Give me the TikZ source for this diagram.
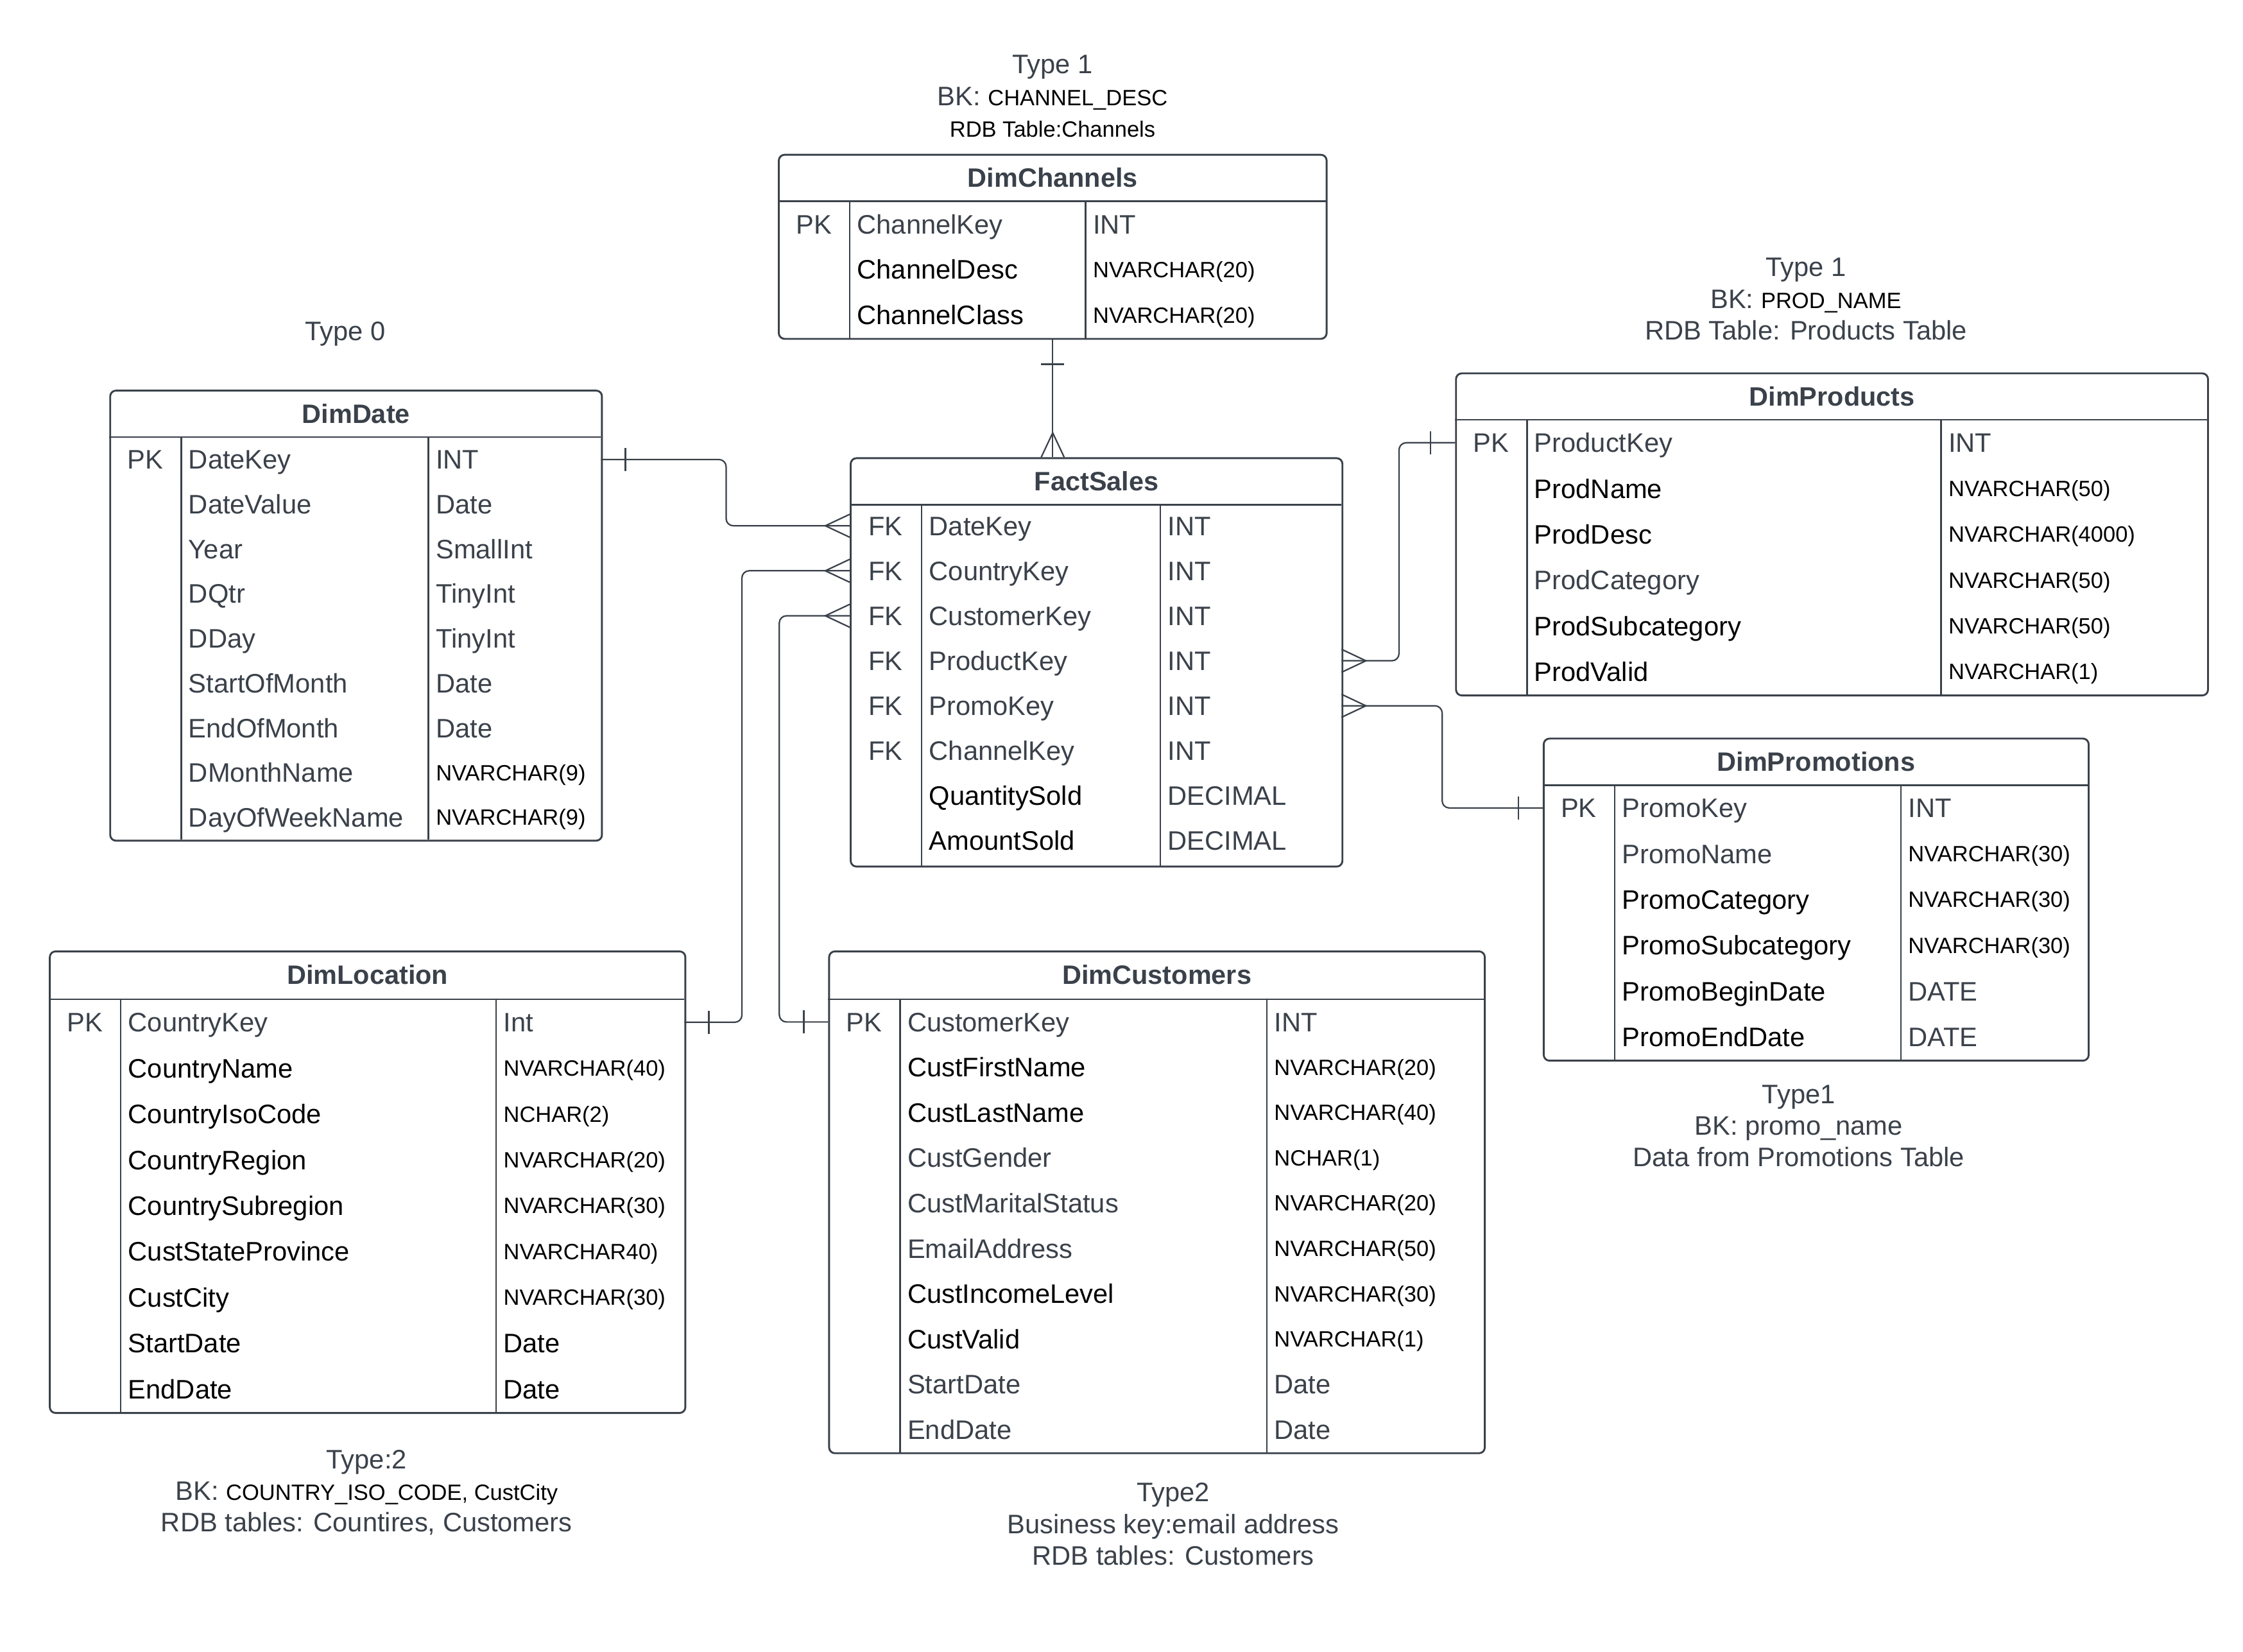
\documentclass[tikz,border=0pt]{standalone}
\usepackage{fontspec}
\setmainfont{Liberation Sans}
\usetikzlibrary{positioning}
\definecolor{ink}{HTML}{3A414A}
\newcommand{\fldfont}{\fontsize{18.6}{22}\selectfont}
\newcommand{\smfont}{\fontsize{15.4}{22}\selectfont}
\newcommand{\hdrfont}{\fontsize{18.5}{22}\selectfont\bfseries}

\begin{document}
\begin{tikzpicture}[
    x=1pt, y=-1pt,
    tbl/.style={draw=ink, line width=1.3pt, rounded corners=4, inner sep=0, anchor=north west},
    hdr/.style={font=\hdrfont, text=ink, minimum height=33, inner sep=0, anchor=north},
    sep/.style={draw=ink, line width=1.1pt},
    row/.style={minimum height=30, inner sep=0, outer sep=0},
    fld/.style={font=\fldfont, inner sep=0, text height=13.3, text depth=0},
    gr/.style={text=ink},
    bk/.style={text=black},
    sm/.style={font=\smfont, text=black, text height=11},
    note/.style={font=\fldfont, text=ink, align=center, inner sep=0},
    link/.style={draw=ink, line width=1pt, rounded corners=5},
    many/.pic={\draw[ink, line width=1pt] (0,-8) -- (-17,0) -- (0,8);},
    one/.pic={\draw[ink, line width=1pt] (-17,-8) -- (-17,8);}
]
    \useasboundingbox[fill=white] (0,0) rectangle (1560,1148.5);

    \node[tbl, minimum width=381, minimum height=128] (ch) at (541,107) {};
    \node[hdr] (ch-t) at (ch.north) {DimChannels};
    \draw[sep] (541,140) -- (922,140) (591,140) -- (591,235) (755,140) -- (755,235);
    \foreach \ky/\nm/\nc/\ty/\tc [count=\i] in {PK/ChannelKey/gr/INT/gr, {}/ChannelDesc/bk/NVARCHAR(20)/sm, {}/ChannelClass/bk/NVARCHAR(20)/sm} {
        \node[row, minimum width=381] (ch-\i) at (731.5, {140+(\i-0.5)*31.67}) {};
        \node[fld, gr] (ch-\i-k) at ([xshift=25] ch-\i.west) {\ky};
        \node[fld, \nc, anchor=west] (ch-\i-n) at ([xshift=55] ch-\i.west) {\nm};
        \node[fld, \tc, anchor=west] (ch-\i-t) at ([xshift=219] ch-\i.west) {\ty};
    }

    \node[tbl, minimum width=342, minimum height=284] (fs) at (591,318) {};
    \node[hdr] (fs-t) at (fs.north) {FactSales};
    \draw[sep] (591,351) -- (933,351) (641,351) -- (641,602) (807,351) -- (807,602);
    \foreach \ky/\nm/\nc/\ty/\tc [count=\i] in {FK/DateKey/gr/INT/gr, FK/CountryKey/gr/INT/gr, FK/CustomerKey/gr/INT/gr, FK/ProductKey/gr/INT/gr, FK/PromoKey/gr/INT/gr, FK/ChannelKey/gr/INT/gr, {}/QuantitySold/bk/DECIMAL/gr, {}/AmountSold/bk/DECIMAL/gr} {
        \node[row, minimum width=342] (fs-\i) at (762, {350+(\i-0.5)*31.3}) {};
        \node[fld, gr] (fs-\i-k) at ([xshift=25] fs-\i.west) {\ky};
        \node[fld, \nc, anchor=west] (fs-\i-n) at ([xshift=55] fs-\i.west) {\nm};
        \node[fld, \tc, anchor=west] (fs-\i-t) at ([xshift=221] fs-\i.west) {\ty};
    }

    \node[tbl, minimum width=342, minimum height=313] (dd) at (76,271) {};
    \node[hdr] (dd-t) at (dd.north) {DimDate};
    \draw[sep] (76,304) -- (418,304) (126,304) -- (126,584) (298,304) -- (298,584);
    \foreach \ky/\nm/\nc/\ty/\tc [count=\i] in {PK/DateKey/gr/INT/gr, {}/DateValue/gr/Date/gr, {}/Year/gr/SmallInt/gr, {}/DQtr/gr/TinyInt/gr, {}/DDay/gr/TinyInt/gr, {}/StartOfMonth/gr/Date/gr, {}/EndOfMonth/gr/Date/gr, {}/DMonthName/gr/NVARCHAR(9)/sm, {}/DayOfWeekName/gr/NVARCHAR(9)/sm} {
        \node[row, minimum width=342] (dd-\i) at (247, {304+(\i-0.5)*31.11}) {};
        \node[fld, gr] (dd-\i-k) at ([xshift=25] dd-\i.west) {\ky};
        \node[fld, \nc, anchor=west] (dd-\i-n) at ([xshift=55] dd-\i.west) {\nm};
        \node[fld, \tc, anchor=west] (dd-\i-t) at ([xshift=227] dd-\i.west) {\ty};
    }

    \node[tbl, minimum width=523, minimum height=224] (dp) at (1012,259) {};
    \node[hdr] (dp-t) at (dp.north) {DimProducts};
    \draw[sep] (1012,292) -- (1535,292) (1062,292) -- (1062,483) (1350,292) -- (1350,483);
    \foreach \ky/\nm/\nc/\ty/\tc [count=\i] in {PK/ProductKey/gr/INT/gr, {}/ProdName/bk/NVARCHAR(50)/sm, {}/ProdDesc/bk/NVARCHAR(4000)/sm, {}/ProdCategory/gr/NVARCHAR(50)/sm, {}/ProdSubcategory/bk/NVARCHAR(50)/sm, {}/ProdValid/bk/NVARCHAR(1)/sm} {
        \node[row, minimum width=523] (dp-\i) at (1273.5, {292+(\i-0.5)*31.83}) {};
        \node[fld, gr] (dp-\i-k) at ([xshift=25] dp-\i.west) {\ky};
        \node[fld, \nc, anchor=west] (dp-\i-n) at ([xshift=55] dp-\i.west) {\nm};
        \node[fld, \tc, anchor=west] (dp-\i-t) at ([xshift=343] dp-\i.west) {\ty};
    }

    \node[tbl, minimum width=379, minimum height=224] (dm) at (1073,513) {};
    \node[hdr] (dm-t) at (dm.north) {DimPromotions};
    \draw[sep] (1073,546) -- (1452,546) (1123,546) -- (1123,737) (1322,546) -- (1322,737);
    \foreach \ky/\nm/\nc/\ty/\tc [count=\i] in {PK/PromoKey/gr/INT/gr, {}/PromoName/gr/NVARCHAR(30)/sm, {}/PromoCategory/bk/NVARCHAR(30)/sm, {}/PromoSubcategory/bk/NVARCHAR(30)/sm, {}/PromoBeginDate/bk/DATE/gr, {}/PromoEndDate/bk/DATE/gr} {
        \node[row, minimum width=379] (dm-\i) at (1262.5, {546+(\i-0.5)*31.83}) {};
        \node[fld, gr] (dm-\i-k) at ([xshift=25] dm-\i.west) {\ky};
        \node[fld, \nc, anchor=west] (dm-\i-n) at ([xshift=55] dm-\i.west) {\nm};
        \node[fld, \tc, anchor=west] (dm-\i-t) at ([xshift=254] dm-\i.west) {\ty};
    }

    \node[tbl, minimum width=442, minimum height=321] (dl) at (34,661) {};
    \node[hdr] (dl-t) at (dl.north) {DimLocation};
    \draw[sep] (34,695) -- (476,695) (84,695) -- (84,982) (345,695) -- (345,982);
    \foreach \ky/\nm/\nc/\ty/\tc [count=\i] in {PK/CountryKey/gr/Int/gr, {}/CountryName/bk/NVARCHAR(40)/sm, {}/CountryIsoCode/bk/NCHAR(2)/sm, {}/CountryRegion/bk/NVARCHAR(20)/sm, {}/CountrySubregion/bk/NVARCHAR(30)/sm, {}/CustStateProvince/bk/NVARCHAR40)/sm, {}/CustCity/bk/NVARCHAR(30)/sm, {}/StartDate/bk/Date/bk, {}/EndDate/bk/Date/bk} {
        \node[row, minimum width=442] (dl-\i) at (255, {695+(\i-0.5)*31.89}) {};
        \node[fld, gr] (dl-\i-k) at ([xshift=25] dl-\i.west) {\ky};
        \node[fld, \nc, anchor=west] (dl-\i-n) at ([xshift=55] dl-\i.west) {\nm};
        \node[fld, \tc, anchor=west] (dl-\i-t) at ([xshift=316] dl-\i.west) {\ty};
    }

    \node[tbl, minimum width=456, minimum height=349] (dc) at (576,661) {};
    \node[hdr] (dc-t) at (dc.north) {DimCustomers};
    \draw[sep] (576,695) -- (1032,695) (626,695) -- (626,1010) (881,695) -- (881,1010);
    \foreach \ky/\nm/\nc/\ty/\tc [count=\i] in {PK/CustomerKey/gr/INT/gr, {}/CustFirstName/bk/NVARCHAR(20)/sm, {}/CustLastName/bk/NVARCHAR(40)/sm, {}/CustGender/gr/NCHAR(1)/sm, {}/CustMaritalStatus/gr/NVARCHAR(20)/sm, {}/EmailAddress/gr/NVARCHAR(50)/sm, {}/CustIncomeLevel/bk/NVARCHAR(30)/sm, {}/CustValid/bk/NVARCHAR(1)/sm, {}/StartDate/gr/Date/gr, {}/EndDate/gr/Date/gr} {
        \node[row, minimum width=456] (dc-\i) at (804, {695+(\i-0.5)*31.5}) {};
        \node[fld, gr] (dc-\i-k) at ([xshift=25] dc-\i.west) {\ky};
        \node[fld, \nc, anchor=west] (dc-\i-n) at ([xshift=55] dc-\i.west) {\nm};
        \node[fld, \tc, anchor=west] (dc-\i-t) at ([xshift=310] dc-\i.west) {\ty};
    }

    \node[note] (ch-n) at (732,67) {Type 1\\BK: {\color{black}\smfont CHANNEL\_DESC}\\{\color{black}\smfont RDB Table:Channels}};
    \node[note] (dd-n) at (240,232) {Type 0};
    \node[note] (dp-n) at (1256,208) {Type 1\\BK: {\color{black}\smfont PROD\_NAME}\\RDB Table: Products Table};
    \node[note] (dm-n) at (1251,783) {Type1\\BK: promo\_name\\Data from Promotions Table};
    \node[note] (dl-n) at (255,1038) {Type:2\\BK: {\color{black}\smfont COUNTRY\_ISO\_CODE, CustCity}\\RDB tables: Countires, Customers};
    \node[note] (dc-n) at (816,1060) {Type2\\Business key:email address\\RDB tables: Customers};

    \draw[link] (dd-1.east) -- ++(87,0) |- (fs-1.west);
    \draw[link] (dl-1.east) -- ++(40,0) |- (fs-2.west);
    \draw[link] (dc-1.west) -- ++(-34,0) |- (fs-3.west);
    \draw[link] (dp-1.west) -- ++(-39,0) |- (fs-4.east);
    \draw[link] (dm-1.west) -- ++(-70,0) |- (fs-5.east);
    \draw[link] (ch.south) -- (ch.south |- fs.north);

    \path (fs-1.west) pic {many} (fs-2.west) pic {many} (fs-3.west) pic {many}
          (fs-4.east) pic[rotate=180] {many} (fs-5.east) pic[rotate=180] {many}
          (ch.south |- fs.north) pic[rotate=-90] {many}
          (dd-1.east) pic[rotate=180] {one} (dl-1.east) pic[rotate=180] {one}
          (dc-1.west) pic {one} (dp-1.west) pic {one} (dm-1.west) pic {one}
          (ch.south) pic[rotate=90] {one};
\end{tikzpicture}
\end{document}
